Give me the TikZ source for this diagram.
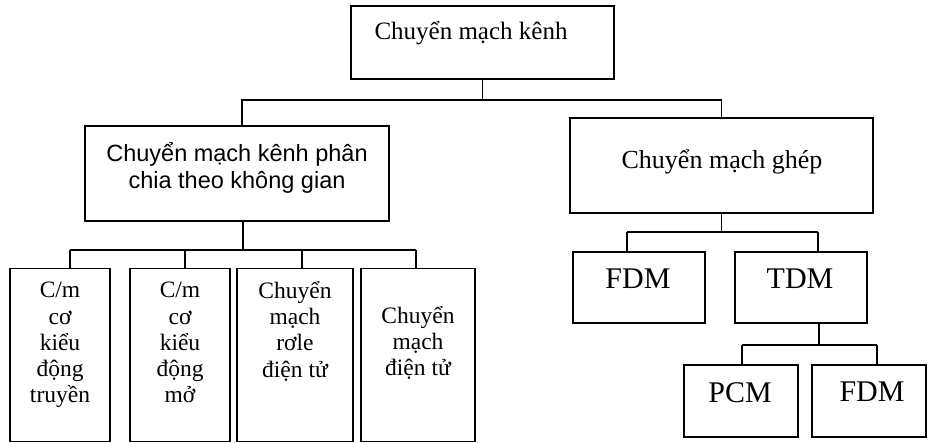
\documentclass[tikz,border=0pt]{standalone}
\usepackage{fontspec}
\setmainfont{Liberation Serif}
\newfontfamily\sansfont{Liberation Sans}
\begin{document}
\begin{tikzpicture}[x=1pt,y=-1pt,
  box/.style={draw=black,line width=1.4pt,inner sep=0pt,outer sep=0pt,
    minimum width=#1},
  box/.default=100pt,
  wire/.style={draw=black,line width=1.3pt},
  lbl/.style={inner sep=0pt,align=center,text=black},
  bigtxt/.style={lbl,font=\fontsize{25}{28}\selectfont},
  sanstxt/.style={lbl,font=\sansfont\fontsize{23.5}{27}\selectfont},
  smalltxt/.style={lbl,font=\fontsize{23.5}{26.3}\selectfont},
  acro/.style={lbl,font=\fontsize{30}{32}\selectfont}]
\useasboundingbox (0,0) rectangle (928,443);

% boxes
\node[box=263pt,minimum height=73pt]  (top)  at (482.5,42.5) {};
\node[box=304pt,minimum height=95pt]  (sp)   at (237,173.5) {};
\node[box=303pt,minimum height=95pt]  (gh)   at (721.5,165.5) {};
\node[box=100pt,minimum height=173pt] (b1)   at (60,355) {};
\node[box=100pt,minimum height=173pt] (b2)   at (180,355) {};
\node[box=116pt,minimum height=173pt] (b3)   at (295,355) {};
\node[box=114pt,minimum height=173pt] (b4)   at (418,355) {};
\node[box=132pt,minimum height=71pt]  (fdm)  at (639,287.5) {};
\node[box=132pt,minimum height=71pt]  (tdm)  at (801,287.5) {};
\node[box=114pt,minimum height=72pt]  (pcm)  at (741,401) {};
\node[box=114pt,minimum height=72pt]  (fdmb) at (869,401) {};

% texts
\node[bigtxt]   (ttop)  at (471,33.5) {Chuyển mạch kênh};
\node[sanstxt]  (tsp)   at (237,168) {Chuyển mạch kênh phân\\chia theo không gian};
\node[bigtxt,font=\fontsize{26}{28}\selectfont] (tgh) at (722,162) {Chuyển mạch ghép};
\node[smalltxt,anchor=north] (tb1) at (60,282) {C/m\\cơ\\kiểu\\động\\truyền};
\node[smalltxt,anchor=north] (tb2) at (tb1.north -| b2) {C/m\\cơ\\kiểu\\động\\mở};
\node[smalltxt] (tb3)   at (295,331) {Chuyển\\mạch\\rơle\\điện tử};
\node[smalltxt] (tb4)   at (418,343) {Chuyển\\mạch\\điện tử};
\node[acro]     (tfdm)  at (638,279) {FDM};
\node[acro]     (ttdm)  at (800,279) {TDM};
\node[acro]     (tpcm)  at (740,393) {PCM};
\node[acro]     (tfdmb) at (872,392) {FDM};

% junction points
\coordinate (h1L) at (242,100);
\coordinate (h1R) at (721.5,100);
\coordinate (d0) at (243,250);
\coordinate (d1) at (70,250);
\coordinate (d2) at (185,250);
\coordinate (d3) at (302,250);
\coordinate (d4) at (416,250);
\coordinate (e0) at (721.5,232);
\coordinate (e1) at (627,232);
\coordinate (e2) at (818,232);
\coordinate (f0) at (819,345);
\coordinate (g1) at (742,345);
\coordinate (g2) at (877,345);

% level 1
\draw[wire] (top.south) -- (top.south |- h1L);
\draw[wire] (sp.north -| h1L) -- (h1L) -- (h1R) -- (gh.north);

% space-division branch
\draw[wire] (sp.south -| d0) -- (d0);
\draw[wire] (d1) -- (d4);
\draw[wire] (d1) -- (b1.north -| d1);
\draw[wire] (d2) -- (b2.north -| d2);
\draw[wire] (d3) -- (b3.north -| d3);
\draw[wire] (d4) -- (b4.north -| d4);

% multiplexing branch
\draw[wire] (gh.south) -- (e0);
\draw[wire] (e1) -- (e2);
\draw[wire] (e1) -- (fdm.north -| e1);
\draw[wire] (e2) -- (tdm.north -| e2);

% TDM branch
\draw[wire] (tdm.south -| f0) -- (f0);
\draw[wire] (g1) -- (g2);
\draw[wire] (g1) -- (pcm.north -| g1);
\draw[wire] (g2) -- (fdmb.north -| g2);
\end{tikzpicture}
\end{document}
